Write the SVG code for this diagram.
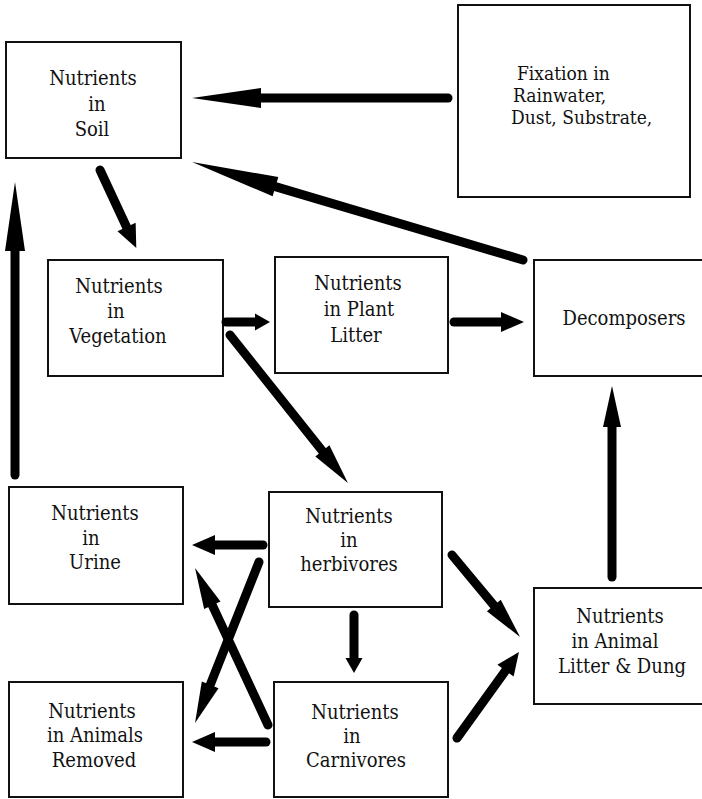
<svg xmlns="http://www.w3.org/2000/svg" width="702" height="799" viewBox="0 0 702 799">
<style>
.box{fill:#fff;stroke:#111;stroke-width:2}
.t{font-family:"DejaVu Serif",serif;font-stretch:condensed;font-size:20px;fill:#111;text-anchor:middle}
.ts{font-family:"DejaVu Serif",serif;font-stretch:condensed;font-size:19px;fill:#111}
.a{stroke:#000;stroke-width:9;stroke-linecap:round;fill:none}
</style>
<defs>
<marker id="ht" markerUnits="userSpaceOnUse" orient="auto" refX="0" refY="0" markerWidth="100" markerHeight="100" viewBox="-2 -12 100 24" overflow="visible"><path d="M-1,-8.5 L14,0 L-1,8.5 z" fill="#000"/></marker>
<marker id="hs" markerUnits="userSpaceOnUse" orient="auto" refX="0" refY="0" markerWidth="100" markerHeight="100" viewBox="-2 -12 100 24" overflow="visible"><path d="M-1,-10 L22,0 L-1,10 z" fill="#000"/></marker>
<marker id="hm" markerUnits="userSpaceOnUse" orient="auto" refX="0" refY="0" markerWidth="100" markerHeight="100" viewBox="-2 -12 100 24" overflow="visible"><path d="M-1,-9 L40,0 L-1,9 z" fill="#000"/></marker>
<marker id="hl" markerUnits="userSpaceOnUse" orient="auto" refX="0" refY="0" markerWidth="100" markerHeight="100" viewBox="-2 -12 100 24" overflow="visible"><path d="M-1,-10 L68,0 L-1,10 z" fill="#000"/></marker>
<marker id="hx" markerUnits="userSpaceOnUse" orient="auto" refX="0" refY="0" markerWidth="100" markerHeight="100" viewBox="-2 -12 100 24" overflow="visible"><path d="M-1,-10 L86,0 L-1,10 z" fill="#000"/></marker>
</defs>
<rect width="702" height="799" fill="#fff"/>

<g id="soil">
<rect class="box" x="6" y="42" width="175" height="116"/>
<text class="t" x="93" y="85">Nutrients</text>
<text class="t" x="97" y="111">in</text>
<text class="t" x="92" y="136">Soil</text>
</g>

<g id="fixation">
<rect class="box" x="458" y="5" width="232" height="192"/>
<text class="ts" x="517" y="80">Fixation in</text>
<text class="ts" x="513" y="102">Rainwater,</text>
<text class="ts" x="511" y="124">Dust, Substrate,</text>
</g>

<g id="vegetation">
<rect class="box" x="48" y="260" width="175" height="116"/>
<text class="t" x="119" y="293">Nutrients</text>
<text class="t" x="116" y="318">in</text>
<text class="t" x="118" y="343">Vegetation</text>
</g>

<g id="plantlitter">
<rect class="box" x="275" y="257" width="173" height="116"/>
<text class="t" x="358" y="290">Nutrients</text>
<text class="t" x="359" y="316">in Plant</text>
<text class="t" x="356" y="342">Litter</text>
</g>

<g id="decomposers">
<rect class="box" x="534" y="260" width="180" height="116"/>
<text class="t" x="624" y="325">Decomposers</text>
</g>

<g id="urine">
<rect class="box" x="9" y="487" width="174" height="117"/>
<text class="t" x="95" y="520">Nutrients</text>
<text class="t" x="91" y="545">in</text>
<text class="t" x="95" y="569">Urine</text>
</g>

<g id="herbivores">
<rect class="box" x="269" y="492" width="173" height="115"/>
<text class="t" x="349" y="523">Nutrients</text>
<text class="t" x="349" y="547">in</text>
<text class="t" x="349" y="571">herbivores</text>
</g>

<g id="animallitter">
<rect class="box" x="534" y="588" width="180" height="116"/>
<text class="t" x="620" y="623">Nutrients</text>
<text class="t" x="615" y="648">in Animal</text>
<text class="t" x="622" y="673">Litter &amp; Dung</text>
</g>

<g id="removed">
<rect class="box" x="9" y="682" width="174" height="115"/>
<text class="t" x="92" y="718">Nutrients</text>
<text class="t" x="95" y="742">in Animals</text>
<text class="t" x="94" y="767">Removed</text>
</g>

<g id="carnivores">
<rect class="box" x="274" y="682" width="174" height="115"/>
<text class="t" x="355" y="719">Nutrients</text>
<text class="t" x="352" y="743">in</text>
<text class="t" x="356" y="767">Carnivores</text>
</g>

<g id="connectors">
<line class="a" x1="448" y1="98" x2="260" y2="98" marker-end="url(#hl)"/>
<line class="a" x1="523" y1="260" x2="274.5" y2="186.4" marker-end="url(#hx)"/>
<line class="a" x1="100" y1="170" x2="127" y2="228" marker-end="url(#hs)"/>
<line class="a" x1="15" y1="475" x2="15" y2="250" marker-end="url(#hl)"/>
<line class="a" x1="226" y1="322" x2="256" y2="322" marker-end="url(#ht)"/>
<line class="a" x1="454" y1="322" x2="502" y2="322" marker-end="url(#hs)"/>
<line class="a" x1="230" y1="335" x2="323" y2="451.7" marker-end="url(#hm)"/>
<line class="a" x1="612" y1="577" x2="612" y2="426" marker-end="url(#hm)"/>
<line class="a" x1="263" y1="545" x2="214" y2="545" marker-end="url(#hs)"/>
<line class="a" x1="259" y1="562" x2="209.8" y2="685.8" marker-end="url(#hm)"/>
<line class="a" x1="268" y1="725" x2="211.9" y2="604.3" marker-end="url(#hm)"/>
<line class="a" x1="354" y1="615" x2="354" y2="659" marker-end="url(#ht)"/>
<line class="a" x1="452" y1="555" x2="494.5" y2="606.2" marker-end="url(#hm)"/>
<line class="a" x1="457" y1="738" x2="506.1" y2="669.8" marker-end="url(#hs)"/>
<line class="a" x1="266" y1="742" x2="214" y2="742" marker-end="url(#hs)"/>
</g>
</svg>
